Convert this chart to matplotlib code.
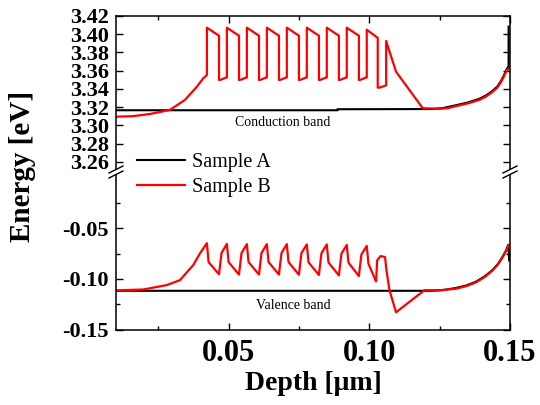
import matplotlib
matplotlib.use("Agg")
import matplotlib.pyplot as plt
from matplotlib.lines import Line2D
from matplotlib.patches import Polygon
from matplotlib.ticker import FixedLocator, FormatStrFormatter

plt.rcParams["font.family"] = ["Liberation Serif", "DejaVu Serif"]
plt.rcParams["axes.unicode_minus"] = False

# Sample A band edges (flat bands with surface bending)
depth_a_cb = [0.0100, 0.0887, 0.0887, 0.1220, 0.1260, 0.1308, 0.1350, 0.1391, 0.1415,
              0.1438, 0.1455, 0.1468, 0.1478, 0.1488, 0.1495, 0.1495]
energy_a_cb = [3.3167, 3.3167, 3.3178, 3.3180, 3.3190, 3.3222, 3.3252, 3.3292, 3.3330,
               3.3380, 3.3428, 3.3488, 3.3548, 3.3615, 3.3650, 3.4083]

depth_a_vb = [0.0100, 0.1220, 0.1260, 0.1308, 0.1345, 0.1379, 0.1410, 0.1438, 0.1458,
              0.1474, 0.1486, 0.1494, 0.1497]
energy_a_vb = [-0.1118, -0.1118, -0.1112, -0.1090, -0.1065, -0.1028, -0.0975, -0.0912,
               -0.0850, -0.0780, -0.0720, -0.0663, -0.0818]

# Sample B band edges (MQW region)
depth_b_cb = [0.0100, 0.0160, 0.0221, 0.0291, 0.0345, 0.0386, 0.0410, 0.0423,
              0.0423, 0.0466, 0.0466, 0.0474, 0.0490, 0.0494,
              0.0494, 0.0537, 0.0537, 0.0545, 0.0561, 0.0565,
              0.0565, 0.0608, 0.0608, 0.0616, 0.0632, 0.0636,
              0.0636, 0.0679, 0.0679, 0.0687, 0.0703, 0.0707,
              0.0707, 0.0750, 0.0750, 0.0758, 0.0774, 0.0778,
              0.0778, 0.0821, 0.0821, 0.0829, 0.0845, 0.0849,
              0.0849, 0.0892, 0.0892, 0.0900, 0.0916, 0.0920,
              0.0920, 0.0963, 0.0963, 0.0971, 0.0987, 0.0991,
              0.0991, 0.1030, 0.1030, 0.1040, 0.1056, 0.1060,
              0.1060, 0.1072, 0.1095, 0.1190, 0.1250, 0.1280, 0.1308, 0.1350,
              0.1391, 0.1415, 0.1438, 0.1455, 0.1468, 0.1478, 0.1488, 0.1497]
energy_b_cb = [3.3096, 3.3102, 3.3126, 3.3170, 3.3280, 3.3420, 3.3517, 3.3553,
               3.4072, 3.3984, 3.3499, 3.3503, 3.3524, 3.3526,
               3.4072, 3.3984, 3.3499, 3.3503, 3.3524, 3.3526,
               3.4072, 3.3984, 3.3499, 3.3503, 3.3524, 3.3526,
               3.4072, 3.3984, 3.3499, 3.3503, 3.3524, 3.3526,
               3.4072, 3.3984, 3.3499, 3.3503, 3.3524, 3.3526,
               3.4072, 3.3984, 3.3499, 3.3503, 3.3524, 3.3526,
               3.4072, 3.3984, 3.3499, 3.3503, 3.3524, 3.3526,
               3.4072, 3.3984, 3.3499, 3.3503, 3.3524, 3.3526,
               3.4050, 3.3960, 3.3414, 3.3418, 3.3436, 3.3440,
               3.3926, 3.3809, 3.3590, 3.3189, 3.3183, 3.3190, 3.3212, 3.3242,
               3.3280, 3.3318, 3.3368, 3.3415, 3.3475, 3.3535, 3.3605, 3.3627]

depth_b_vb = [0.0100, 0.0197, 0.0280, 0.0327, 0.0374, 0.0398, 0.0423,
              0.0429, 0.0466, 0.0475, 0.0494,
              0.0500, 0.0537, 0.0546, 0.0565,
              0.0571, 0.0608, 0.0617, 0.0636,
              0.0642, 0.0679, 0.0688, 0.0707,
              0.0713, 0.0750, 0.0759, 0.0778,
              0.0784, 0.0821, 0.0830, 0.0849,
              0.0855, 0.0892, 0.0901, 0.0920,
              0.0926, 0.0963, 0.0972, 0.0991,
              0.0997, 0.1024, 0.1028, 0.1040, 0.1056,
              0.1061, 0.1072, 0.1095, 0.1196, 0.1250, 0.1308, 0.1345, 0.1379,
              0.1410, 0.1438, 0.1458, 0.1474, 0.1486, 0.1495]
energy_b_vb = [-0.1114, -0.1105, -0.1062, -0.1013, -0.0866, -0.0750, -0.0648,
               -0.0834, -0.0955, -0.0745, -0.0655,
               -0.0834, -0.0958, -0.0745, -0.0657,
               -0.0834, -0.0958, -0.0745, -0.0657,
               -0.0834, -0.0958, -0.0745, -0.0657,
               -0.0834, -0.0960, -0.0745, -0.0660,
               -0.0836, -0.0962, -0.0748, -0.0660,
               -0.0838, -0.0966, -0.0752, -0.0665,
               -0.0840, -0.0972, -0.0760, -0.0674,
               -0.0850, -0.1026, -0.0818, -0.0775, -0.0785,
               -0.0917, -0.1115, -0.1330, -0.1112, -0.1112, -0.1098, -0.1072, -0.1035,
               -0.0982, -0.0918, -0.0855, -0.0786, -0.0725, -0.0670]

cb_ticks = [3.26, 3.28, 3.30, 3.32, 3.34, 3.36, 3.38, 3.40, 3.42]
vb_ticks = [-0.15, -0.10, -0.05]
vb_minor = [-0.125, -0.075, -0.025]
x_ticks = [0.05, 0.10, 0.15]
x_minor = [0.025, 0.075, 0.125]

fig = plt.figure(figsize=(5.4, 4.05), dpi=100)
left, width = 116 / 540, 394 / 540
ax_top = fig.add_axes([left, 1 - 170 / 405, width, 154 / 405])
ax_bot = fig.add_axes([left, 1 - 329.5 / 405, width, 155.5 / 405])

for ax in (ax_top, ax_bot):
    ax.plot(depth_a_cb, energy_a_cb, color="black", lw=1.5, label="Sample A")
    ax.plot(depth_b_cb, energy_b_cb, color="#ff0000", lw=1.6, label="Sample B")
    ax.plot(depth_a_vb, energy_a_vb, color="black", lw=1.5)
    ax.plot(depth_b_vb, energy_b_vb, color="#ff0000", lw=1.6)
    ax.set_xlim(0.01, 0.15)
    for s in ax.spines.values():
        s.set_linewidth(1.1)
    ax.xaxis.set_major_locator(FixedLocator(x_ticks))
    ax.xaxis.set_minor_locator(FixedLocator(x_minor))
    ax.tick_params(which="both", direction="in", width=1.0, left=True, right=True)
    ax.tick_params(which="major", length=5)
    ax.tick_params(which="minor", length=3)

ax_top.set_ylim(3.2512, 3.42)
ax_top.spines["bottom"].set_visible(False)
ax_top.yaxis.set_major_locator(FixedLocator(cb_ticks))
ax_top.yaxis.set_major_formatter(FormatStrFormatter("%.2f"))
ax_top.tick_params(which="both", bottom=False, top=True, labelbottom=False)
ax_top.tick_params(axis="y", which="minor", left=False, right=False)

ax_bot.set_ylim(-0.15, 0.0035)
ax_bot.spines["top"].set_visible(False)
ax_bot.yaxis.set_major_locator(FixedLocator(vb_ticks))
ax_bot.yaxis.set_minor_locator(FixedLocator(vb_minor))
ax_bot.yaxis.set_major_formatter(FormatStrFormatter("%.2f"))
ax_bot.xaxis.set_major_formatter(FormatStrFormatter("%.2f"))
ax_bot.tick_params(which="both", top=False)

for lab in ax_top.get_yticklabels() + ax_bot.get_yticklabels():
    lab.set_fontsize(16)
    lab.set_fontweight("bold")
for lab in ax_bot.get_xticklabels():
    lab.set_fontsize(22)
    lab.set_fontweight("bold")
ax_top.tick_params(axis="y", pad=5)
ax_bot.tick_params(axis="y", pad=5)
ax_bot.tick_params(axis="x", pad=7)

ax_bot.set_xlabel("Depth [μm]", fontsize=20, fontweight="bold", labelpad=2)
fig.text(0.042, 0.59, "Energy [eV]", rotation=90, fontsize=21, fontweight="bold",
         ha="center", va="center")

ax_top.text(0.0694, 3.303, "Conduction band", fontsize=10, ha="center", va="center")
ax_bot.text(0.0729, -0.126, "Valence band", fontsize=10, ha="center", va="center")

handles, labels = ax_top.get_legend_handles_labels()
fig.legend(handles, labels, loc="upper left", bbox_to_anchor=(0.254, 1 - 153 / 405),
           bbox_transform=fig.transFigure, frameon=False, fontsize=14.5,
           handlelength=2.4, handletextpad=0.3, labelspacing=0.28, borderaxespad=0,
           borderpad=0)

# axis break marks on both side spines
yb = 1 - 172 / 405
for xs in (116, 510):
    xc = xs / 540
    dx, dy, off = 7 / 540, 3.5 / 405, 2.5 / 405
    fig.patches.append(Polygon([[xc - dx, yb - dy - off], [xc + dx, yb + dy - off],
                                [xc + dx, yb + dy + off], [xc - dx, yb - dy + off]],
                               closed=True, facecolor="white", edgecolor="none",
                               transform=fig.transFigure, zorder=5))
    for o in (-off, off):
        fig.lines.append(Line2D([xc - dx, xc + dx], [yb - dy + o, yb + dy + o],
                                color="black", lw=1.0, transform=fig.transFigure,
                                zorder=6))

fig.savefig("out.png", dpi=100)
